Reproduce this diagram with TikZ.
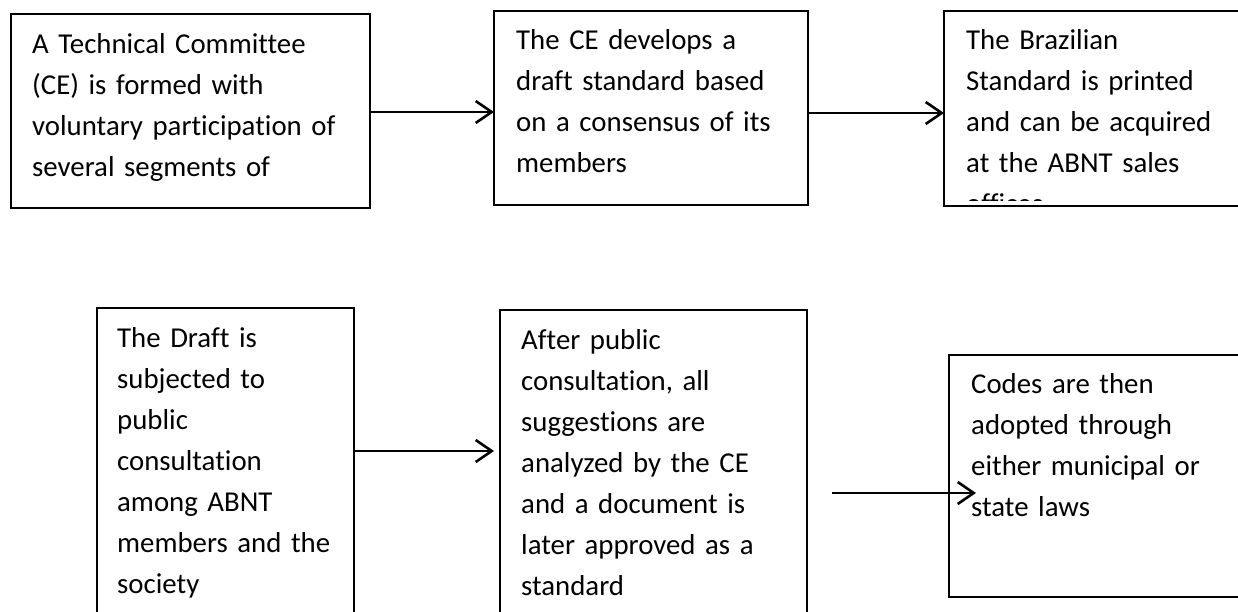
\documentclass[tikz,border=0pt]{standalone}
\usepackage{fontspec}
\setmainfont{Carlito}[Ligatures=NoCommon]
\usetikzlibrary{arrows.meta,positioning}

\newcommand{\stagefont}{\fontsize{28.8pt}{41pt}\selectfont}
\newcommand{\stagestrut}{\rule{0pt}{28.7pt}}

\begin{document}
\begin{tikzpicture}[x=1pt,y=-1pt,
  stagebox/.style={draw,rectangle,line width=2pt,inner sep=0pt,outer sep=0pt,anchor=north west},
  stagetext/.style={inner sep=0pt,align=left,text width=400pt,font=\stagefont},
  flow/.style={line width=2.6pt,-{Straight Barb[length=16pt,width=22pt]}}]
  \useasboundingbox (0,0) rectangle (1238,612);
  \clip (0,0) rectangle (1238,612);

  % Top row: the boxes first, then their texts.
  \node (box1) [stagebox,minimum width=359pt,minimum height=194pt] at (11,14) {};
  \node (box2) [stagebox,minimum width=314pt,minimum height=194pt] at (494,11) {};
  \node (box3) [stagebox,minimum width=320pt,minimum height=195pt] at (944,11) {};

  \node (txt1) [stagetext,below right=10.3pt and 21pt of box1.north west]
    {\stagestrut A Technical Committee\\(CE) is formed with\\voluntary participation of\\several segments of};
  \node (txt2) [stagetext,below right=9.8pt and 22pt of box2.north west]
    {\stagestrut The CE develops a\\draft standard based\\on a consensus of its\\members};
  \begin{scope}
    % the last line is cut off by the box
    \clip (box3.north west) rectangle (1238,200.5);
    \node (txt3) [stagetext,below right=9.6pt and 22pt of box3.north west]
      {\stagestrut The Brazilian\\Standard is printed\\and can be acquired\\at the ABNT sales\\offices};
  \end{scope}

  \draw[flow] ([yshift=-1pt]box1.east) -- ([yshift=-1pt]box1.east -| box2.west);
  \draw[flow] ([yshift=-5pt]box2.east) -- ([yshift=-5pt]box2.east -| box3.west);

  % Bottom row.
  \node (box4) [stagebox,minimum width=257pt,minimum height=330pt] at (97,308) {};
  \node (box5) [stagebox,minimum width=307pt,minimum height=330pt] at (500,310) {};
  \node (box6) [stagebox,minimum width=320pt,minimum height=242pt] at (949,355) {};

  \node (txt4) [stagetext,below right=10.3pt and 20pt of box4.north west]
    {\stagestrut The Draft is\\subjected to\\public\\consultation\\among ABNT\\members and the\\society};
  \node (txt5) [stagetext,below right=10.3pt and 21pt of box5.north west]
    {\stagestrut After public\\consultation, all\\suggestions are\\analyzed by the CE\\and a document is\\later approved as a\\standard};
  \node (txt6) [stagetext,below right=9.3pt and 22pt of box6.north west]
    {\stagestrut Codes are then\\adopted through\\either municipal or\\state laws};

  \coordinate (tip4) at (494,451);
  \coordinate (from5) at (832,493);
  \coordinate (tip5) at (976,493);
  \draw[flow] (box4.east |- tip4) -- (tip4);
  \draw[flow] (from5) -- (tip5);
\end{tikzpicture}
\end{document}
